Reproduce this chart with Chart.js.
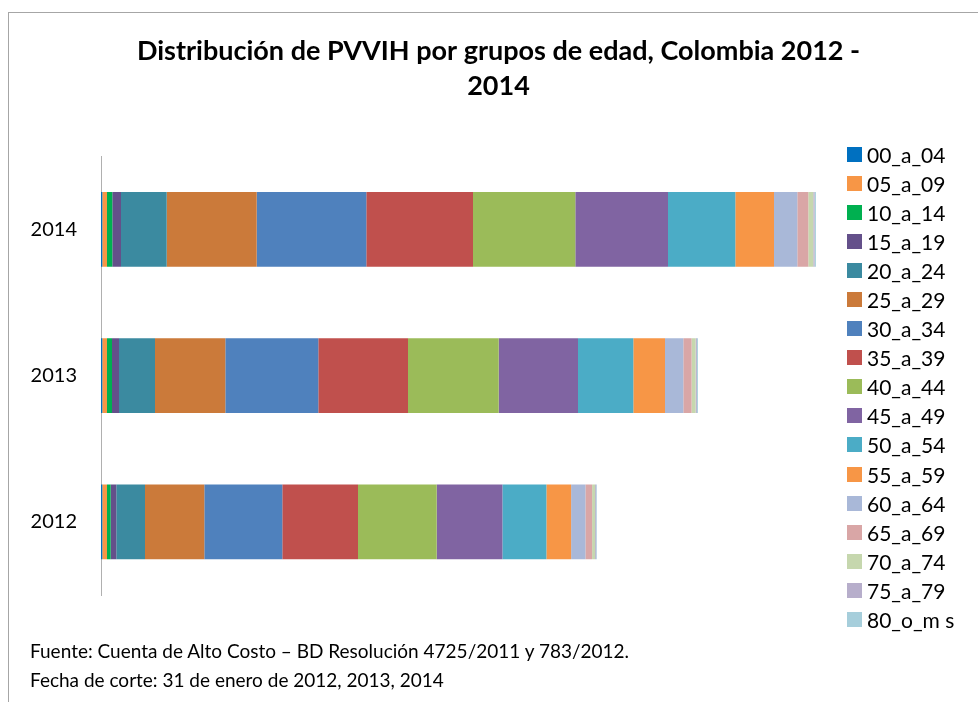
<!DOCTYPE html>
<html lang="es">
<head>
<meta charset="utf-8">
<title>Distribución de PVVIH por grupos de edad</title>
<script src="https://cdn.jsdelivr.net/npm/chart.js@4.4.1/dist/chart.umd.min.js"></script>
<style>
  html, body { margin: 0; padding: 0; width: 978px; height: 702px; overflow: hidden; background: #fff; font-family: Lato, 'Open Sans', sans-serif; }
  #frame { position: absolute; left: 8px; top: 12px; width: 1000px; height: 1000px; border: 1.5px solid #a6a6a6; box-sizing: border-box; }
  #chart-wrap { position: absolute; left: 0; top: 0; width: 978px; height: 702px; }
  #legend { position: absolute; left: 847px; top: 140px; list-style: none; margin: 0; padding: 0; }
  #legend li { height: 29.06px; display: flex; align-items: center; font-size: 21px; color: #000; }
  #legend .box { width: 15px; height: 15px; margin-right: 5px; flex: none; }
  #source { position: absolute; left: 30px; top: 636px; font-size: 19px; line-height: 29px; color: #000; }
</style>
</head>
<body>
<div id="frame"></div>
<div id="chart-wrap"><canvas id="chart"></canvas></div>
<ul id="legend"></ul>
<div id="source">
  Fuente: Cuenta de Alto Costo – BD Resolución 4725/2011 y 783/2012.<br>
  Fecha de corte: 31 de enero de 2012, 2013, 2014
</div>
<script>
// categories, top to bottom
const years = ['2014', '2013', '2012'];

const ageGroups = ['00_a_04', '05_a_09', '10_a_14', '15_a_19', '20_a_24', '25_a_29', '30_a_34', '35_a_39',
  '40_a_44', '45_a_49', '50_a_54', '55_a_59', '60_a_64', '65_a_69', '70_a_74', '75_a_79', '80_o_m s'];

// people per age group
const values2014 = [130, 470, 530, 870, 4570, 9000, 10960, 10670, 10230, 9270, 6730, 3870, 2330, 1100, 500, 130, 130];
const values2013 = [130, 470, 500, 700, 3600, 7030, 9300, 8970, 9070, 7930, 5530, 3170, 1830, 830, 400, 130, 100];
const values2012 = [130, 470, 370, 560, 2870, 5930, 7800, 7570, 7870, 6570, 4400, 2470, 1430, 670, 300, 100, 70];

const groupColors = ['#0070C0', '#F79646', '#00B050', '#64508A', '#3B8AA0', '#CB7A3A', '#4F81BD', '#C0504D',
  '#9BBB59', '#8064A2', '#4BACC6', '#F79646', '#A9B8D8', '#D9A6A6', '#C6D7AE', '#B7AECB', '#A6CEDB'];

const xMax = 87700;

Chart.defaults.font.family = "Lato, 'Open Sans', sans-serif";
Chart.defaults.color = '#000';

const datasets = ageGroups.map((name, i) => ({
  label: name,
  data: [values2014[i], values2013[i], values2012[i]],
  backgroundColor: groupColors[i],
  borderWidth: 0,
  barPercentage: 0.51,
  categoryPercentage: 1
}));

new Chart(document.getElementById('chart'), {
  type: 'bar',
  data: { labels: years, datasets },
  options: {
    indexAxis: 'y',
    responsive: true,
    maintainAspectRatio: false,
    animation: false,
    layout: { padding: { top: 0, left: 19, right: 0, bottom: 107 } },
    plugins: {
      legend: { display: false },
      tooltip: { enabled: false },
      title: {
        display: true,
        text: ['Distribución de PVVIH por grupos de edad, Colombia 2012 -', '2014'],
        font: { size: 27, weight: 'bold', lineHeight: 1.3 },
        color: '#000',
        padding: { top: 34, bottom: 52 }
      }
    },
    scales: {
      x: { stacked: true, display: false, min: 0, max: xMax },
      y: {
        stacked: true,
        grid: { display: false, drawTicks: false },
        border: { display: true, color: '#b0b0b0', width: 1 },
        ticks: { font: { size: 20 }, color: '#000', padding: 24 },
        afterFit: (scale) => { scale.width = 82; }
      }
    }
  }
});

// legend list built from the same arrays
const legendEl = document.getElementById('legend');
ageGroups.forEach((name, i) => {
  const li = document.createElement('li');
  const box = document.createElement('span');
  box.className = 'box';
  box.style.background = groupColors[i];
  li.appendChild(box);
  li.appendChild(document.createTextNode(name));
  legendEl.appendChild(li);
});
</script>
</body>
</html>
